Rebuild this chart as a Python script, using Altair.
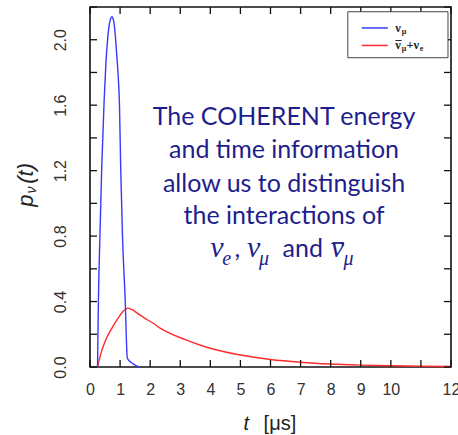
import altair as alt
import pandas as pd

# Arrival-time distributions of the prompt and delayed neutrino flavours
blue_t = [0.25, 0.28, 0.33, 0.39, 0.47, 0.53, 0.58, 0.63, 0.68, 0.73, 0.78, 0.83, 0.88, 0.93, 0.98, 1.02, 1.08, 1.17, 1.24, 1.35, 1.5, 1.65]
blue_p = [0.0, 0.41, 0.80, 1.22, 1.63, 1.86, 1.99, 2.08, 2.125, 2.14, 2.12, 2.05, 1.93, 1.80, 1.60, 1.22, 0.80, 0.41, 0.055, 0.03, 0.012, 0.0]

red_t = [0.25, 0.33, 0.39, 0.5, 0.56, 0.72, 0.94, 1.1, 1.26, 1.4, 1.6, 1.8, 2.06, 2.33, 3.17, 3.77, 5.0, 6.0, 7.0, 8.0, 9.0, 10.0, 11.0, 12.0]
red_p = [0.0, 0.06, 0.10, 0.155, 0.18, 0.235, 0.30, 0.34, 0.36, 0.35, 0.325, 0.30, 0.272, 0.238, 0.167, 0.127, 0.073, 0.046, 0.029, 0.018, 0.0115, 0.0073, 0.0047, 0.003]

x_ticks = list(range(0, 13))
x_labels = [0, 1, 2, 3, 4, 5, 6, 7, 8, 9, 10, 12]
y_ticks = [0.0, 0.2, 0.4, 0.6, 0.8, 1.0, 1.2, 1.4, 1.6, 1.8, 2.0, 2.2]
y_labels = [0.0, 0.4, 0.8, 1.2, 1.6, 2.0]

note_lines = ["The COHERENT energy", "and time information", "allow us to distinguish", "the interactions of"]
note_p = [1.48, 1.28, 1.07, 0.875]

W, H = 361, 360
TICK = 7
NAVY = "#1e1e8c"
BLUE = "#3a3aff"
RED = "#ff2a2a"

xscale = alt.Scale(domain=[0, 12], nice=False, zero=False)
yscale = alt.Scale(domain=[0, 2.2], nice=False, zero=False)
xaxis = alt.Axis(values=x_labels, tickSize=0, domain=False, grid=False, title=None,
                 labelFont="Liberation Sans", labelFontSize=16, labelColor="#333",
                 labelPadding=14, labelFlush=False, labelOverlap=False)
yaxis = alt.Axis(values=y_labels, format=".1f", tickSize=0, domain=False, grid=False, title=None,
                 labelFont="Liberation Sans", labelFontSize=16, labelColor="#333",
                 labelAngle=270, labelAlign="center", labelBaseline="bottom",
                 labelPadding=22, labelFlush=False, labelOverlap=False)


def X(field="t"):
    return alt.X(f"{field}:Q", scale=xscale, axis=xaxis)


def Y(field="p"):
    return alt.Y(f"{field}:Q", scale=yscale, axis=yaxis)


blue_df = pd.DataFrame({"t": blue_t, "p": blue_p})
red_df = pd.DataFrame({"t": red_t, "p": red_p})

red_line = alt.Chart(red_df).mark_line(color=RED, strokeWidth=1.4, interpolate="monotone").encode(
    x=X(), y=Y(), order="t:Q")
blue_line = alt.Chart(blue_df).mark_line(color=BLUE, strokeWidth=1.4, interpolate="monotone").encode(
    x=X(), y=Y(), order="t:Q")

# inward-pointing ticks on all four sides of the frame
xt_df = pd.DataFrame({"t": x_ticks})
yt_df = pd.DataFrame({"p": y_ticks})
tick_style = dict(color="#111", strokeWidth=1.3)
ticks_bottom = alt.Chart(xt_df).mark_rule(**tick_style).encode(x=X(), y=alt.value(H), y2=alt.value(H - TICK))
ticks_top = alt.Chart(xt_df).mark_rule(**tick_style).encode(x=X(), y=alt.value(0), y2=alt.value(TICK))
ticks_left = alt.Chart(yt_df).mark_rule(**tick_style).encode(y=Y(), x=alt.value(0), x2=alt.value(TICK))
ticks_right = alt.Chart(yt_df).mark_rule(**tick_style).encode(y=Y(), x=alt.value(W), x2=alt.value(W - TICK))

# axis titles
xtitle_df = pd.DataFrame({"t": [5.1, 5.77], "p": [-0.385, -0.385], "s": ["t", "[μs]"]})
xtitle_t = alt.Chart(xtitle_df.iloc[[0]]).mark_text(font="Liberation Sans", fontSize=20, fontStyle="italic",
                                                   align="left", baseline="alphabetic", color="#222").encode(x=X(), y=Y(), text="s:N")
xtitle_u = alt.Chart(xtitle_df.iloc[[1]]).mark_text(font="Liberation Sans", fontSize=20,
                                                   align="left", baseline="alphabetic", color="#222").encode(x=X(), y=Y(), text="s:N")

ytitle_df = pd.DataFrame({"t": [-1.9, -1.8, -1.9], "p": [0.98, 1.06, 1.12], "s": ["p", "ν", "(t)"]})
ytitle_main = alt.Chart(ytitle_df.iloc[[0, 2]]).mark_text(font="Liberation Sans", fontSize=22, fontStyle="italic", angle=270,
                                                         align="left", baseline="alphabetic", color="#222").encode(x=X(), y=Y(), text="s:N")
ytitle_sub = alt.Chart(ytitle_df.iloc[[1]]).mark_text(font="Liberation Sans", fontSize=14, fontStyle="italic", angle=270,
                                                     align="left", baseline="alphabetic", color="#222").encode(x=X(), y=Y(), text="s:N")

# explanatory note
note_df = pd.DataFrame({"t": [6.45] * len(note_lines), "p": note_p, "s": note_lines})
note = alt.Chart(note_df).mark_text(font="Lato", fontSize=25, color=NAVY, align="center",
                                    baseline="alphabetic").encode(x=X(), y=Y(), text="s:N")

sym_df = pd.DataFrame({"t": [4.0, 5.22, 8.0], "p": [0.673] * 3, "s": ["ν", "ν", "ν"]})
sub_df = pd.DataFrame({"t": [4.4, 5.62, 8.43], "p": [0.624] * 3, "s": ["e", "μ", "μ"]})
word_df = pd.DataFrame({"t": [4.8, 6.4], "p": [0.673] * 2, "s": [",", "and"]})
syms = alt.Chart(sym_df).mark_text(font="Liberation Serif", fontSize=30, fontStyle="italic", color=NAVY,
                                   align="left", baseline="alphabetic").encode(x=X(), y=Y(), text="s:N")
subs = alt.Chart(sub_df).mark_text(font="Liberation Serif", fontSize=20, fontStyle="italic", color=NAVY,
                                   align="left", baseline="alphabetic").encode(x=X(), y=Y(), text="s:N")
words = alt.Chart(word_df).mark_text(font="Lato", fontSize=25, color=NAVY,
                                     align="left", baseline="alphabetic").encode(x=X(), y=Y(), text="s:N")
bar_df = pd.DataFrame({"t": [8.06], "t2": [8.44], "p": [0.758]})
bar = alt.Chart(bar_df).mark_rule(color=NAVY, strokeWidth=1.8).encode(x=X(), x2="t2:Q", y=Y())

# legend
leg_box_df = pd.DataFrame({"t": [8.57], "t2": [11.9], "p": [2.171], "p2": [1.89]})
leg_box = alt.Chart(leg_box_df).mark_rect(fill="white", stroke="#444", strokeWidth=1).encode(
    x=X(), x2="t2:Q", y=Y(), y2="p2:Q")
leg_lines_df = pd.DataFrame({"t": [9.03, 9.03], "t2": [9.9, 9.9], "p": [2.072, 1.965], "c": ["a", "b"]})
leg_lines = alt.Chart(leg_lines_df).mark_rule(strokeWidth=1.5).encode(
    x=X(), x2="t2:Q", y=Y(),
    color=alt.Color("c:N", scale=alt.Scale(domain=["a", "b"], range=[BLUE, RED]), legend=None))
leg_big_df = pd.DataFrame({"t": [10.15, 10.15, 10.52, 10.75], "p": [2.049, 1.945, 1.945, 1.945], "s": ["ν", "ν", "+", "ν"]})
leg_small_df = pd.DataFrame({"t": [10.36, 10.36, 10.96], "p": [2.034, 1.930, 1.930], "s": ["μ", "μ", "e"]})
leg_big = alt.Chart(leg_big_df).mark_text(font="Liberation Serif", fontSize=12.5, fontWeight="bold", color="#222",
                                          align="left", baseline="alphabetic").encode(x=X(), y=Y(), text="s:N")
leg_small = alt.Chart(leg_small_df).mark_text(font="Liberation Serif", fontSize=8, fontWeight="bold", color="#222",
                                              align="left", baseline="alphabetic").encode(x=X(), y=Y(), text="s:N")
leg_bar_df = pd.DataFrame({"t": [10.15], "t2": [10.36], "p": [1.995]})
leg_bar = alt.Chart(leg_bar_df).mark_rule(color="#222", strokeWidth=1).encode(x=X(), x2="t2:Q", y=Y())

chart = alt.layer(
    red_line, blue_line,
    ticks_bottom, ticks_top, ticks_left, ticks_right,
    xtitle_t, xtitle_u, ytitle_main, ytitle_sub,
    note, syms, subs, words, bar,
    leg_box, leg_lines, leg_big, leg_small, leg_bar,
).properties(
    width=W, height=H,
    autosize=alt.AutoSizeParams(type="none"),
    padding={"left": 90, "top": 7, "right": 7, "bottom": 68},
    background="white",
).configure_view(stroke="#111", strokeWidth=1.6)

chart.save("out.html", embed_options={"renderer": "svg", "actions": False})
